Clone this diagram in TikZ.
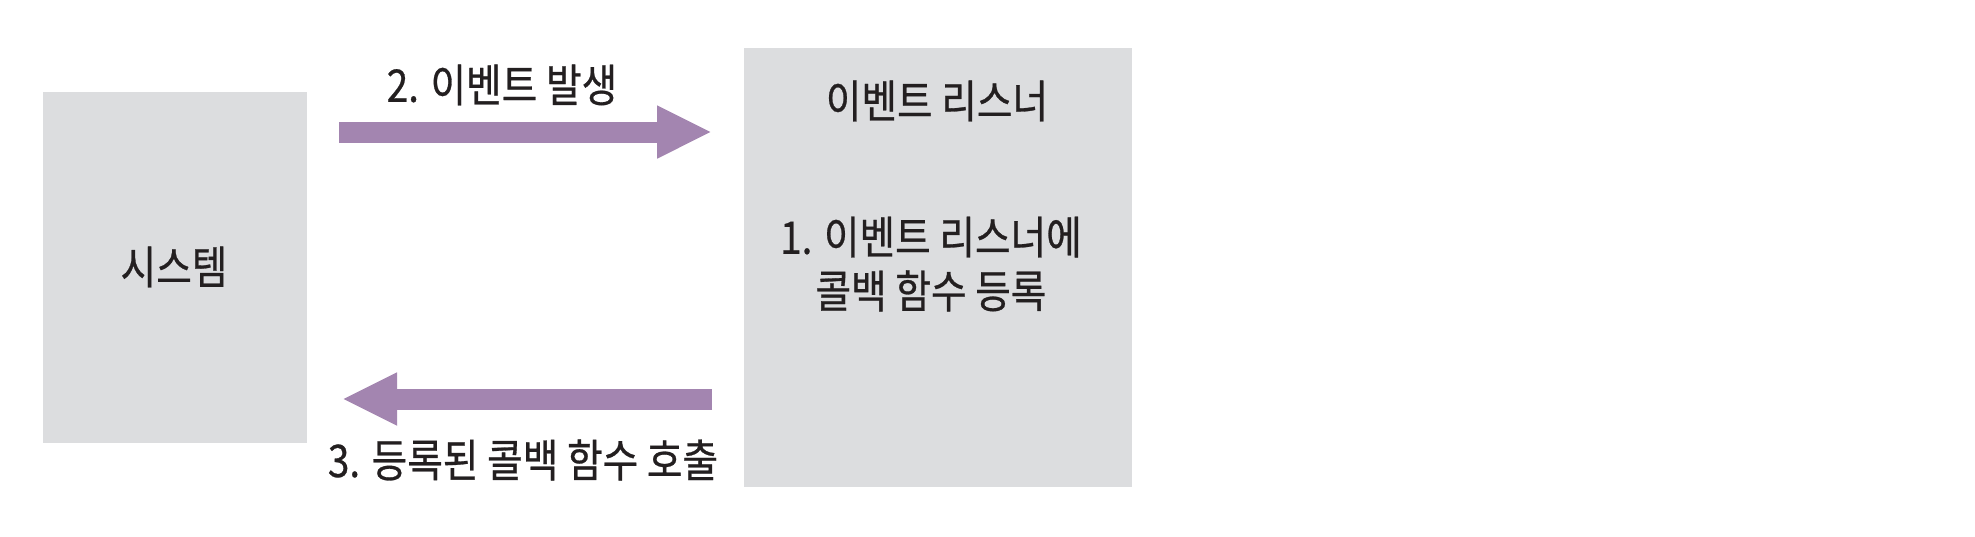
\documentclass[tikz,border=0pt]{standalone}
\usepackage{fontspec}
\setmainfont{Noto Sans CJK KR}[FakeStretch=0.86,FakeBold=0.6]
\usetikzlibrary{arrows.meta}
\definecolor{boxgray}{HTML}{DCDDDF}
\definecolor{arrpurple}{HTML}{A385B0}
\definecolor{txt}{HTML}{231F20}
\tikzset{
  panel/.style={fill=boxgray, draw=none, inner sep=0pt, anchor=center},
  lbl/.style={text=txt, inner sep=0pt, anchor=center, font=\fontsize{45}{54}\selectfont, align=center},
  bigarrow/.style={draw=arrpurple, line width=21pt, -{Triangle[width=49pt,length=55pt]}, color=arrpurple},
}
\begin{document}
\begin{tikzpicture}[x=1pt,y=-1pt]
\useasboundingbox[fill=white] (0,0) rectangle (1975,536);
\node[panel, minimum width=264pt, minimum height=351pt] (sys) at (175,267.5) {};
\node[panel, minimum width=388pt, minimum height=439pt] (lis) at (938,267.5) {};
\node[lbl] (systxt) at (174,267) {시스템};
\node[lbl] (listitle) at (937,101) {이벤트 리스너};
\node[lbl] (reg) at (931,264) {1. 이벤트 리스너에\\콜백 함수 등록};
\coordinate (a1s) at (339,132);
\coordinate (a1e) at (712,132);
\coordinate (a2s) at (712,399);
\coordinate (a2e) at (342,399);
\draw[bigarrow] (a1s) -- (a1e);
\draw[bigarrow] (a2s) -- (a2e);
\node[lbl] (evt) at (502,85) {2. 이벤트 발생};
\node[lbl] (call) at (523,460) {3. 등록된 콜백 함수 호출};
\end{tikzpicture}
\end{document}
